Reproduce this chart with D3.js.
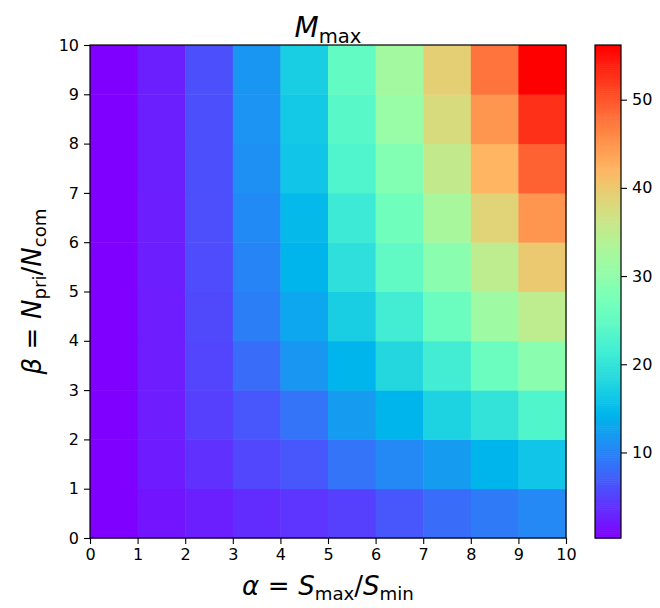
<!DOCTYPE html>
<html>
<head>
<meta charset="utf-8">
<script src="https://cdn.jsdelivr.net/npm/d3@7"></script>
<style>
  body { margin: 0; background: #fff; }
  svg { display: block; font-family: 'DejaVu Sans', sans-serif; }
</style>
</head>
<body>
<svg id="chart" width="660" height="608"></svg>
<script>
// bin edges on both axes
const alphaEdges = [0, 1, 2, 3, 4, 5, 6, 7, 8, 9, 10];
const betaEdges = [0, 1, 2, 3, 4, 5, 6, 7, 8, 9, 10];
const xTicks = [0, 1, 2, 3, 4, 5, 6, 7, 8, 9, 10];
const yTicks = [0, 1, 2, 3, 4, 5, 6, 7, 8, 9, 10];
const cbarTicks = [10, 20, 30, 40, 50];

// M_max per beta row (bottom row first), one value per alpha bin
const row0 = [0.3, 1.7, 2.5, 3.4, 4.0, 4.8, 6.5, 8.1, 9.2, 10.3];
const row1 = [0.3, 2.2, 3.7, 5.3, 6.5, 8.7, 10.3, 12.0, 14.3, 16.0];
const row2 = [0.3, 2.3, 4.8, 6.5, 8.7, 12.0, 14.3, 17.6, 19.9, 23.2];
const row3 = [0.3, 2.3, 5.2, 8.1, 11.5, 14.3, 18.2, 21.5, 26.0, 29.4];
const row4 = [0.3, 2.3, 5.5, 9.5, 13.0, 17.0, 21.5, 26.0, 31.6, 35.0];
const row5 = [0.3, 2.4, 5.7, 10.0, 14.3, 19.3, 24.9, 29.4, 35.0, 40.0];
const row6 = [0.3, 2.4, 5.8, 10.5, 14.8, 21.0, 26.6, 32.7, 38.9, 45.0];
const row7 = [0.3, 2.5, 5.9, 11.0, 16.0, 23.0, 28.5, 35.5, 42.2, 49.2];
const row8 = [0.3, 2.5, 5.9, 11.3, 16.5, 24.0, 31.0, 37.8, 45.0, 52.8];
const row9 = [0.3, 2.5, 5.9, 11.5, 17.0, 25.0, 32.0, 39.4, 47.8, 56.2];
const rows = [row0, row1, row2, row3, row4, row5, row6, row7, row8, row9];

const cells = [];
rows.forEach((r, j) => r.forEach((v, i) => cells.push({ i, j, v })));

const vmin = d3.min(cells, (d) => d.v);
const vmax = d3.max(cells, (d) => d.v);

// matplotlib "rainbow"
const clip = (a) => Math.max(0, Math.min(1, a));
const rainbow = (t) => d3.rgb(
  255 * clip(Math.abs(2 * t - 0.5)),
  255 * clip(Math.sin(Math.PI * t)),
  255 * clip(Math.cos(Math.PI * t / 2)),
).toString();

const color = d3.scaleSequential(rainbow).domain([vmin, vmax]);

const margin = { left: 90, top: 45 };
const plotW = 476;
const plotH = 493;

const svg = d3.select('#chart');
const g = svg.append('g').attr('transform', `translate(${margin.left}, ${margin.top})`);

const x = d3.scaleLinear().domain([0, 10]).range([0, plotW]);
const y = d3.scaleLinear().domain([0, 10]).range([plotH, 0]);

g.append('g')
  .selectAll('rect')
  .data(cells)
  .join('rect')
  .attr('x', (d) => x(alphaEdges[d.i]))
  .attr('y', (d) => y(betaEdges[d.j + 1]))
  .attr('width', (d) => x(alphaEdges[d.i + 1]) - x(alphaEdges[d.i]) + 0.5)
  .attr('height', (d) => y(betaEdges[d.j]) - y(betaEdges[d.j + 1]) + 0.5)
  .attr('fill', (d) => color(d.v));

g.append('rect')
  .attr('width', plotW)
  .attr('height', plotH)
  .attr('fill', 'none')
  .attr('stroke', '#000')
  .attr('stroke-width', 1.2);

const xAxis = g.append('g')
  .attr('transform', `translate(0, ${plotH})`)
  .call(d3.axisBottom(x).tickValues(xTicks).tickSize(6).tickPadding(5).tickFormat(d3.format('d')));
const yAxis = g.append('g')
  .call(d3.axisLeft(y).tickValues(yTicks).tickSize(6).tickPadding(5).tickFormat(d3.format('d')));
[xAxis, yAxis].forEach((a) => {
  a.select('.domain').remove();
  a.selectAll('line').attr('stroke', '#000').attr('stroke-width', 1.1);
  a.selectAll('text').attr('fill', '#000').style('font-size', '16px').style('font-family', 'DejaVu Sans');
});

// colorbar
const cbX = 595;
const cbW = 26;
const cb = svg.append('g').attr('transform', `translate(${cbX}, ${margin.top})`);
const cy = d3.scaleLinear().domain([vmin, vmax]).range([plotH, 0]);
const steps = d3.range(0, 256).map((k) => vmin + (k / 255) * (vmax - vmin));
const stepH = plotH / 256;
cb.append('g')
  .selectAll('rect')
  .data(steps)
  .join('rect')
  .attr('x', 0)
  .attr('y', (d, k) => plotH - (k + 1) * stepH)
  .attr('width', cbW)
  .attr('height', stepH + 0.6)
  .attr('fill', (d) => color(d));
cb.append('rect')
  .attr('width', cbW)
  .attr('height', plotH)
  .attr('fill', 'none')
  .attr('stroke', '#000')
  .attr('stroke-width', 1.2);
const cAxis = cb.append('g')
  .attr('transform', `translate(${cbW}, 0)`)
  .call(d3.axisRight(cy).tickValues(cbarTicks).tickSize(6).tickPadding(5));
cAxis.select('.domain').remove();
cAxis.selectAll('line').attr('stroke', '#000').attr('stroke-width', 1.1);
cAxis.selectAll('text').attr('fill', '#000').style('font-size', '16px').style('font-family', 'DejaVu Sans');

// mathtext-like labels
const mathText = (sel, parts, size) => {
  parts.forEach((p) => {
    const t = sel.append('tspan').text(p.t);
    if (p.it) t.style('font-style', 'italic');
    if (p.sub) {
      t.style('font-size', `${size * 0.7}px`).attr('dy', size * 0.2);
    } else if (p.back) {
      t.attr('dy', -size * 0.2);
    }
  });
};

const title = svg.append('text')
  .attr('x', margin.left + plotW / 2)
  .attr('y', 37)
  .attr('text-anchor', 'middle')
  .style('font-size', '28px');
mathText(title, [{ t: 'M', it: true }, { t: 'max', sub: true }], 28);

const xl = svg.append('text')
  .attr('x', margin.left + plotW / 2)
  .attr('y', 595)
  .attr('text-anchor', 'middle')
  .style('font-size', '26px');
mathText(xl, [
  { t: 'α', it: true }, { t: '\u2004=\u2004' }, { t: 'S', it: true }, { t: 'max', sub: true },
  { t: '/', back: true }, { t: 'S', it: true }, { t: 'min', sub: true },
], 26);

const yl = svg.append('text')
  .attr('transform', `translate(41, ${margin.top + plotH / 2}) rotate(-90)`)
  .attr('text-anchor', 'middle')
  .style('font-size', '26px');
mathText(yl, [
  { t: 'β', it: true }, { t: '\u2004=\u2004' }, { t: 'N', it: true }, { t: 'pri', sub: true },
  { t: '/', back: true }, { t: 'N', it: true }, { t: 'com', sub: true },
], 26);
</script>
</body>
</html>
